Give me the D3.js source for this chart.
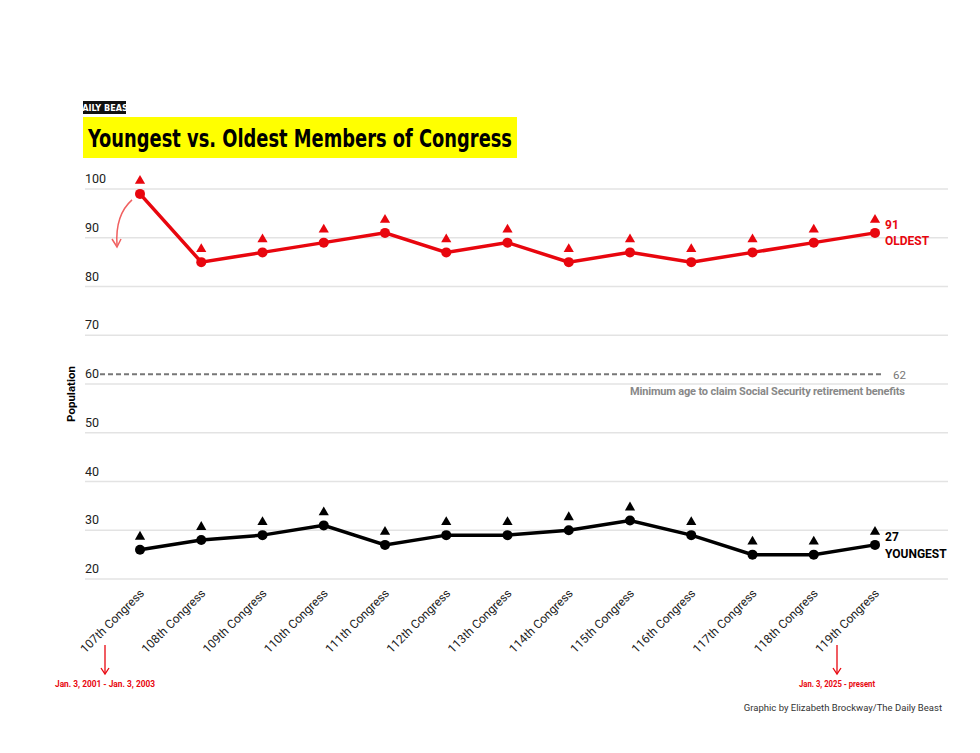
<!DOCTYPE html><html><head><meta charset="utf-8">
<script src="https://cdn.jsdelivr.net/npm/d3@7"></script>
<style>body{margin:0;background:#fff;font-family:Roboto,sans-serif}</style></head><body>
<svg id="c" width="980" height="753"></svg>
<script>
const congresses=["107th Congress","108th Congress","109th Congress","110th Congress","111th Congress","112th Congress","113th Congress","114th Congress","115th Congress","116th Congress","117th Congress","118th Congress","119th Congress"];
const oldest=[99,85,87,89,91,87,89,85,87,85,87,89,91];
const youngest=[26,28,29,31,27,29,29,30,32,29,25,25,27];
const yTicks=[20,30,40,50,60,70,80,90,100];
const ssAge=62;
const svg=d3.select("#c");
const x=d3.scalePoint().domain(congresses).range([140,875]);
const y=d3.scaleLinear().domain([20,100]).range([579,189]);
yTicks.forEach(t=>{
 svg.append("line").attr("x1",85).attr("x2",948).attr("y1",y(t)).attr("y2",y(t)).attr("stroke","#e3e3e3").attr("stroke-width",1.5);
 svg.append("text").attr("x",85).attr("y",y(t)-6).attr("font-size",12.5).attr("fill","#222").text(t);
});
svg.append("text").attr("transform",`translate(75,${y(60)+10}) rotate(-90)`).attr("text-anchor","middle").attr("font-size",11.5).attr("font-weight","bold").text("Population");
svg.append("line").attr("x1",100).attr("x2",883).attr("y1",y(ssAge)).attr("y2",y(ssAge)).attr("stroke","#777").attr("stroke-width",2).attr("stroke-dasharray","5,3");
svg.append("text").attr("x",893).attr("y",y(ssAge)+5).attr("font-size",11.5).attr("fill","#777").text(ssAge);
svg.append("text").attr("x",905).attr("y",y(ssAge)+21).attr("text-anchor","end").attr("font-size",11).attr("font-weight","bold").attr("fill","#888").attr("textLength",275).text("Minimum age to claim Social Security retirement benefits");
function series(vals,col){
 const line=d3.line().x((d,i)=>x(congresses[i])).y(d=>y(d));
 svg.append("path").attr("d",line(vals)).attr("fill","none").attr("stroke",col).attr("stroke-width",3.5);
 vals.forEach((v,i)=>{
  svg.append("circle").attr("cx",x(congresses[i])).attr("cy",y(v)).attr("r",5).attr("fill",col);
  svg.append("path").attr("d",d3.symbol(d3.symbolTriangle,45)()).attr("transform",`translate(${x(congresses[i])},${y(v)-13})`).attr("fill",col);
 });
}
series(oldest,"#e8060e");series(youngest,"#000");
svg.append("text").attr("x",885).attr("y",y(91)-4).attr("font-size",12).attr("font-weight","bold").attr("fill","#e8060e").text("91");
svg.append("text").attr("x",885).attr("y",y(91)+12).attr("font-size",12).attr("font-weight","bold").attr("fill","#e8060e").text("OLDEST");
svg.append("text").attr("x",885).attr("y",y(27)-4).attr("font-size",12).attr("font-weight","bold").text("27");
svg.append("text").attr("x",885).attr("y",y(27)+13).attr("font-size",12).attr("font-weight","bold").text("YOUNGEST");
congresses.forEach(c=>{
 svg.append("text").attr("transform",`translate(${x(c)+5},${594}) rotate(-45)`).attr("text-anchor","end").attr("font-size",12).attr("fill","#222").text(c);
});
const ann=[[x(congresses[0])-35,"Jan. 3, 2001 - Jan. 3, 2003",100],[x(congresses[12])-38,"Jan. 3, 2025 - present",76]];
ann.forEach(([ax,t,w])=>{
 svg.append("line").attr("x1",ax).attr("x2",ax).attr("y1",645).attr("y2",673).attr("stroke","#e8060e").attr("stroke-width",1.3);
 svg.append("path").attr("d",`M${ax-4},668 L${ax},674 L${ax+4},668`).attr("fill","none").attr("stroke","#e8060e").attr("stroke-width",1.3);
 svg.append("text").attr("x",ax).attr("y",687).attr("text-anchor","middle").attr("font-size",8.5).attr("font-weight","bold").attr("fill","#e8060e").attr("textLength",w).attr("lengthAdjust","spacingAndGlyphs").text(t);
});
svg.append("path").attr("d",`M${x(congresses[0])-8},${y(99)+6} Q115,215 117,245`).attr("fill","none").attr("stroke","#f06060").attr("stroke-width",1.5);
svg.append("path").attr("d","M112,239 L117,247 L121,239").attr("fill","none").attr("stroke","#f06060").attr("stroke-width",1.5);
svg.append("rect").attr("x",83).attr("y",101).attr("width",43).attr("height",13).attr("fill","#111");
svg.append("text").attr("x",104.5).attr("y",111).attr("text-anchor","middle").attr("fill","#fff").attr("font-size",9).attr("font-weight","bold").attr("font-family","'Liberation Sans Narrow','DejaVu Sans Condensed'").text("DAILY BEAST");
svg.append("rect").attr("x",83).attr("y",117).attr("width",434).attr("height",41).attr("fill","#ffff00");
svg.append("text").attr("x",88).attr("y",147).attr("font-size",25).attr("font-weight","bold").attr("font-family","'DejaVu Sans Condensed'").attr("textLength",424).attr("lengthAdjust","spacingAndGlyphs").text("Youngest vs. Oldest Members of Congress");
svg.append("text").attr("x",942).attr("y",711).attr("text-anchor","end").attr("font-size",9.5).attr("fill","#333").text("Graphic by Elizabeth Brockway/The Daily Beast");
</script></body></html>
